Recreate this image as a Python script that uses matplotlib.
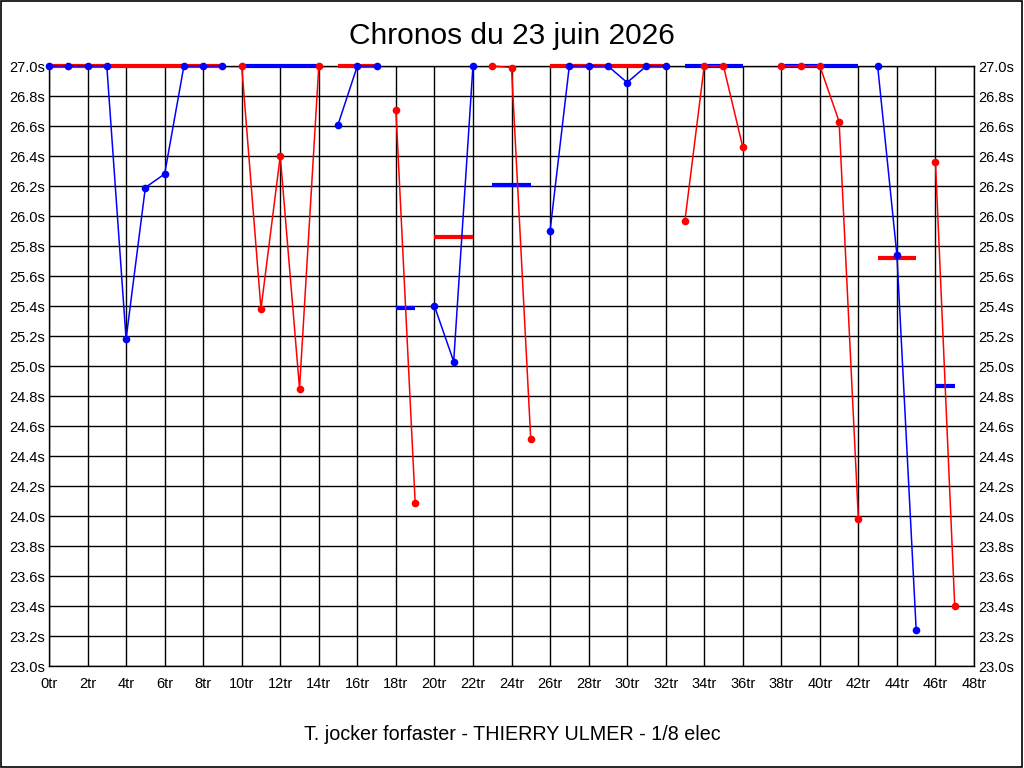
import numpy as np
import matplotlib
matplotlib.use("Agg")
import matplotlib.pyplot as plt
from matplotlib.patches import Rectangle

plt.rcParams['font.family'] = ['Liberation Sans', 'DejaVu Sans']

# ---- data ----
laps = list(range(48))
times = [27.0, 27.0, 27.0, 27.0, 25.18, 26.19, 26.28, 27.0, 27.0, 27.0,
         27.0, 25.38, 26.40, 24.85, 27.0,
         26.61, 27.0, 27.0,
         26.71, 24.09,
         25.40, 25.03, 27.0,
         27.0, 26.99, 24.51,
         25.90, 27.0, 27.0, 27.0, 26.89, 27.0, 27.0,
         25.97, 27.0, 27.0, 26.46,
         np.nan,
         27.0, 27.0, 27.0, 26.63, 23.98,
         27.0, 25.74, 23.24,
         26.36, 23.40]
seg_first = [0, 10, 15, 18, 20, 23, 26, 33, 38, 43, 46]
seg_last = [9, 14, 17, 19, 22, 25, 32, 36, 42, 45, 47]
seg_colors = ['blue', 'red', 'blue', 'red', 'blue', 'red', 'blue', 'red', 'red', 'blue', 'red']
seg_means = [27.0, 27.0, 27.0, 25.39, 25.86, 26.21, 27.0, 27.0, 27.0, 25.72, 24.87]
mean_colors = ['red', 'blue', 'red', 'blue', 'red', 'blue', 'red', 'blue', 'blue', 'red', 'blue']

x_ticks = list(range(0, 49, 2))
x_labels = [f"{v}tr" for v in x_ticks]
y_ticks = [round(23.0 + 0.2 * i, 1) for i in range(21)]
y_labels = [f"{v:.1f}s" for v in y_ticks]

# ---- figure ----
fig = plt.figure(figsize=(10.24, 7.68), dpi=100)
fig.patch.set_facecolor('white')
ax = fig.add_axes([49 / 1024, 1 - 666 / 768, (974 - 49) / 1024, 600 / 768])

ax.set_xlim(0, 48)
ax.set_ylim(23.0, 27.0)
ax.set_xticks(x_ticks)
ax.set_xticklabels(x_labels)
ax.set_yticks(y_ticks)
ax.set_yticklabels(y_labels)
ax.tick_params(axis='both', length=0, labelsize=10.5, colors='black')
ax.tick_params(axis='x', pad=8)
ax.tick_params(axis='y', pad=3, labelleft=True, labelright=True)
ax.grid(True, color='black', linewidth=1.0)
ax.set_axisbelow(True)
for s in ax.spines.values():
    s.set_color('black')
    s.set_linewidth(1.0)

# mean lines (drawn first)
for f, l, m, c in zip(seg_first, seg_last, seg_means, mean_colors):
    ax.plot([f, l], [m, m], color=c, linewidth=3.0, solid_capstyle='butt',
            zorder=3, clip_on=False)

# series per segment
lap_arr = np.array(laps)
time_arr = np.array(times, dtype=float)
for f, l, c in zip(seg_first, seg_last, seg_colors):
    sel = (lap_arr >= f) & (lap_arr <= l)
    ax.plot(lap_arr[sel], time_arr[sel], color=c, linewidth=1.1,
            marker='o', markersize=5.5, markeredgewidth=0, zorder=4, clip_on=False)

fig.text(0.5, 1 - 36 / 768, "Chronos du 23 juin 2026", ha='center', va='center',
         fontsize=21.5, color='black')
fig.text(0.5, 1 - 735 / 768, "T. jocker forfaster - THIERRY ULMER - 1/8 elec",
         ha='center', va='center', fontsize=14.2, color='black')

# figure border
fig.patches.append(Rectangle((0.0005, 0.0007), 0.998, 0.998, transform=fig.transFigure,
                             fill=False, edgecolor='black', linewidth=1.2))

fig.savefig('out.png', dpi=100)
